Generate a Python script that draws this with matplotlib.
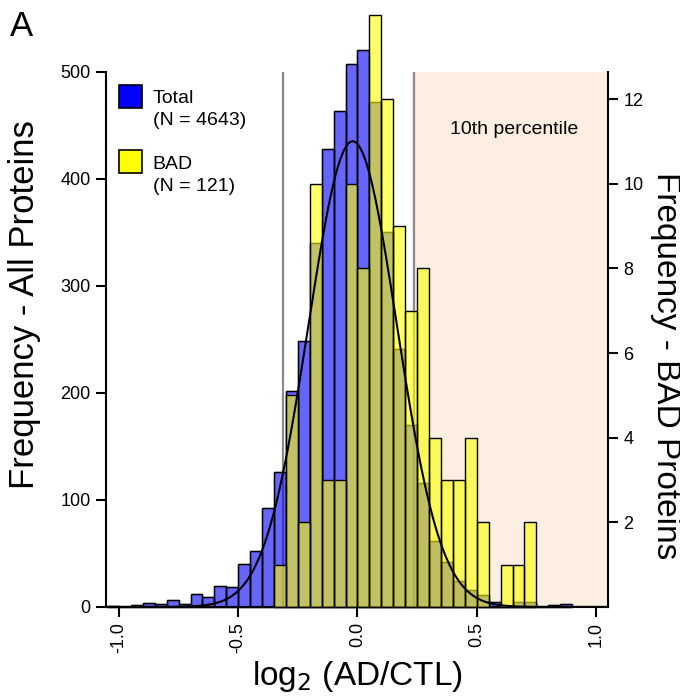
import numpy as np
import matplotlib.pyplot as plt
from matplotlib.patches import Rectangle

plt.rcParams['font.family'] = ['Liberation Sans', 'DejaVu Sans']

# histogram of all proteins (bin width 0.05, first bin starts at -1.05)
bin_width = 0.05
total_start = -1.05
total_counts = [1, 0, 2, 4, 3, 6, 3, 12, 9, 20, 19, 40, 52, 92, 126, 202, 248,
                340, 428, 463, 507, 520, 472, 350, 241, 170, 116, 62, 42, 24,
                16, 11, 5, 1, 5, 5, 0, 2, 3]

# histogram of BAD proteins (first bin starts at -0.35)
bad_start = -0.35
bad_counts = [1, 5, 2, 10, 3, 3, 10, 8, 14, 12, 9, 7, 8, 4, 3, 3, 4, 2, 0, 1, 1, 2]

# fitted normal curve for all proteins
fit_mean = -0.02
fit_sd = 0.185
fit_peak = 435

# cut-offs
low_cut = -0.314
high_cut = 0.235

total_x = total_start + bin_width * np.arange(len(total_counts))
bad_x = bad_start + bin_width * np.arange(len(bad_counts))

fig = plt.figure(figsize=(6.8, 6.96), dpi=100)
ax = fig.add_axes([0.156, 0.128, 0.738, 0.769])
ax2 = ax.twinx()

xmin, xmax = -1.054, 1.05
ax.set_xlim(xmin, xmax)
ax.set_ylim(0, 500)
ax2.set_ylim(0, 12.65)

# 10th percentile region and cut-off lines
ax.axvspan(high_cut, xmax, color='#fcefe2', zorder=0, lw=0)
ax.plot([low_cut, low_cut], [0, 500], color='#8a8a8a', lw=1.6, zorder=1)
ax.plot([high_cut, high_cut], [0, 500], color='#8a8a8a', lw=1.6, zorder=1)
ax.text(0.655, 446, '10th percentile', ha='center', va='center', fontsize=14)

ax.bar(total_x, total_counts, width=bin_width, align='edge', color='blue',
       alpha=0.6, edgecolor='black', linewidth=1.0, zorder=2, clip_on=False)
ax.bar(total_x, total_counts, width=bin_width, align='edge', fill=False,
       edgecolor='black', linewidth=1.0, zorder=3, clip_on=False)

ax2.bar(bad_x, bad_counts, width=bin_width, align='edge', color='yellow',
        alpha=0.6, linewidth=0, zorder=2, clip_on=False)
ax2.bar(bad_x, bad_counts, width=bin_width, align='edge', fill=False,
        edgecolor='black', linewidth=1.0, zorder=3, clip_on=False)

xs = np.linspace(xmin, xmax, 500)
ys = fit_peak * np.exp(-0.5 * ((xs - fit_mean) / fit_sd) ** 2)
ax2.plot(xs, ys, color='black', lw=1.5, transform=ax.transData, zorder=4)

# spines / ticks
for a in (ax, ax2):
    a.spines['top'].set_visible(False)
    for s in ('left', 'right', 'bottom'):
        a.spines[s].set_linewidth(1.5)
ax.spines['right'].set_visible(False)
ax2.spines['left'].set_visible(False)
ax2.spines['bottom'].set_visible(False)

ax.set_xticks([-1.0, -0.5, 0.0, 0.5, 1.0])
ax.set_xticklabels(['-1.0', '-0.5', '0.0', '0.5', '1.0'], rotation=90)
ax.set_yticks([0, 100, 200, 300, 400, 500])
ax2.set_yticks([2, 4, 6, 8, 10, 12])
ax.tick_params(axis='both', labelsize=13, width=1.5, length=7, pad=4)
ax2.tick_params(axis='y', labelsize=13, width=1.5, length=7, pad=4)

ax.set_xlabel('log$_2$ (AD/CTL)', fontsize=24, labelpad=4)
fig.text(0.036, 0.562, 'Frequency - All Proteins', fontsize=25, rotation=90,
         ha='center', va='center')
fig.text(0.978, 0.475, 'Frequency - BAD Proteins', fontsize=24, rotation=270,
         ha='center', va='center')

# legend
ax.add_patch(Rectangle((0.026, 0.933), 0.046, 0.043, transform=ax.transAxes,
                       facecolor='blue', edgecolor='black', lw=1.2, clip_on=False, zorder=5))
ax.add_patch(Rectangle((0.026, 0.811), 0.046, 0.043, transform=ax.transAxes,
                       facecolor='yellow', edgecolor='black', lw=1.2, clip_on=False, zorder=5))
ax.text(0.093, 0.966, 'Total\n(N = 4643)', transform=ax.transAxes, fontsize=14,
        va='top', ha='left', linespacing=1.4)
ax.text(0.093, 0.843, 'BAD\n(N = 121)', transform=ax.transAxes, fontsize=14,
        va='top', ha='left', linespacing=1.4)

fig.text(0.014, 0.985, 'A', fontsize=25, va='top', ha='left')

fig.savefig('out.png', dpi=100)
